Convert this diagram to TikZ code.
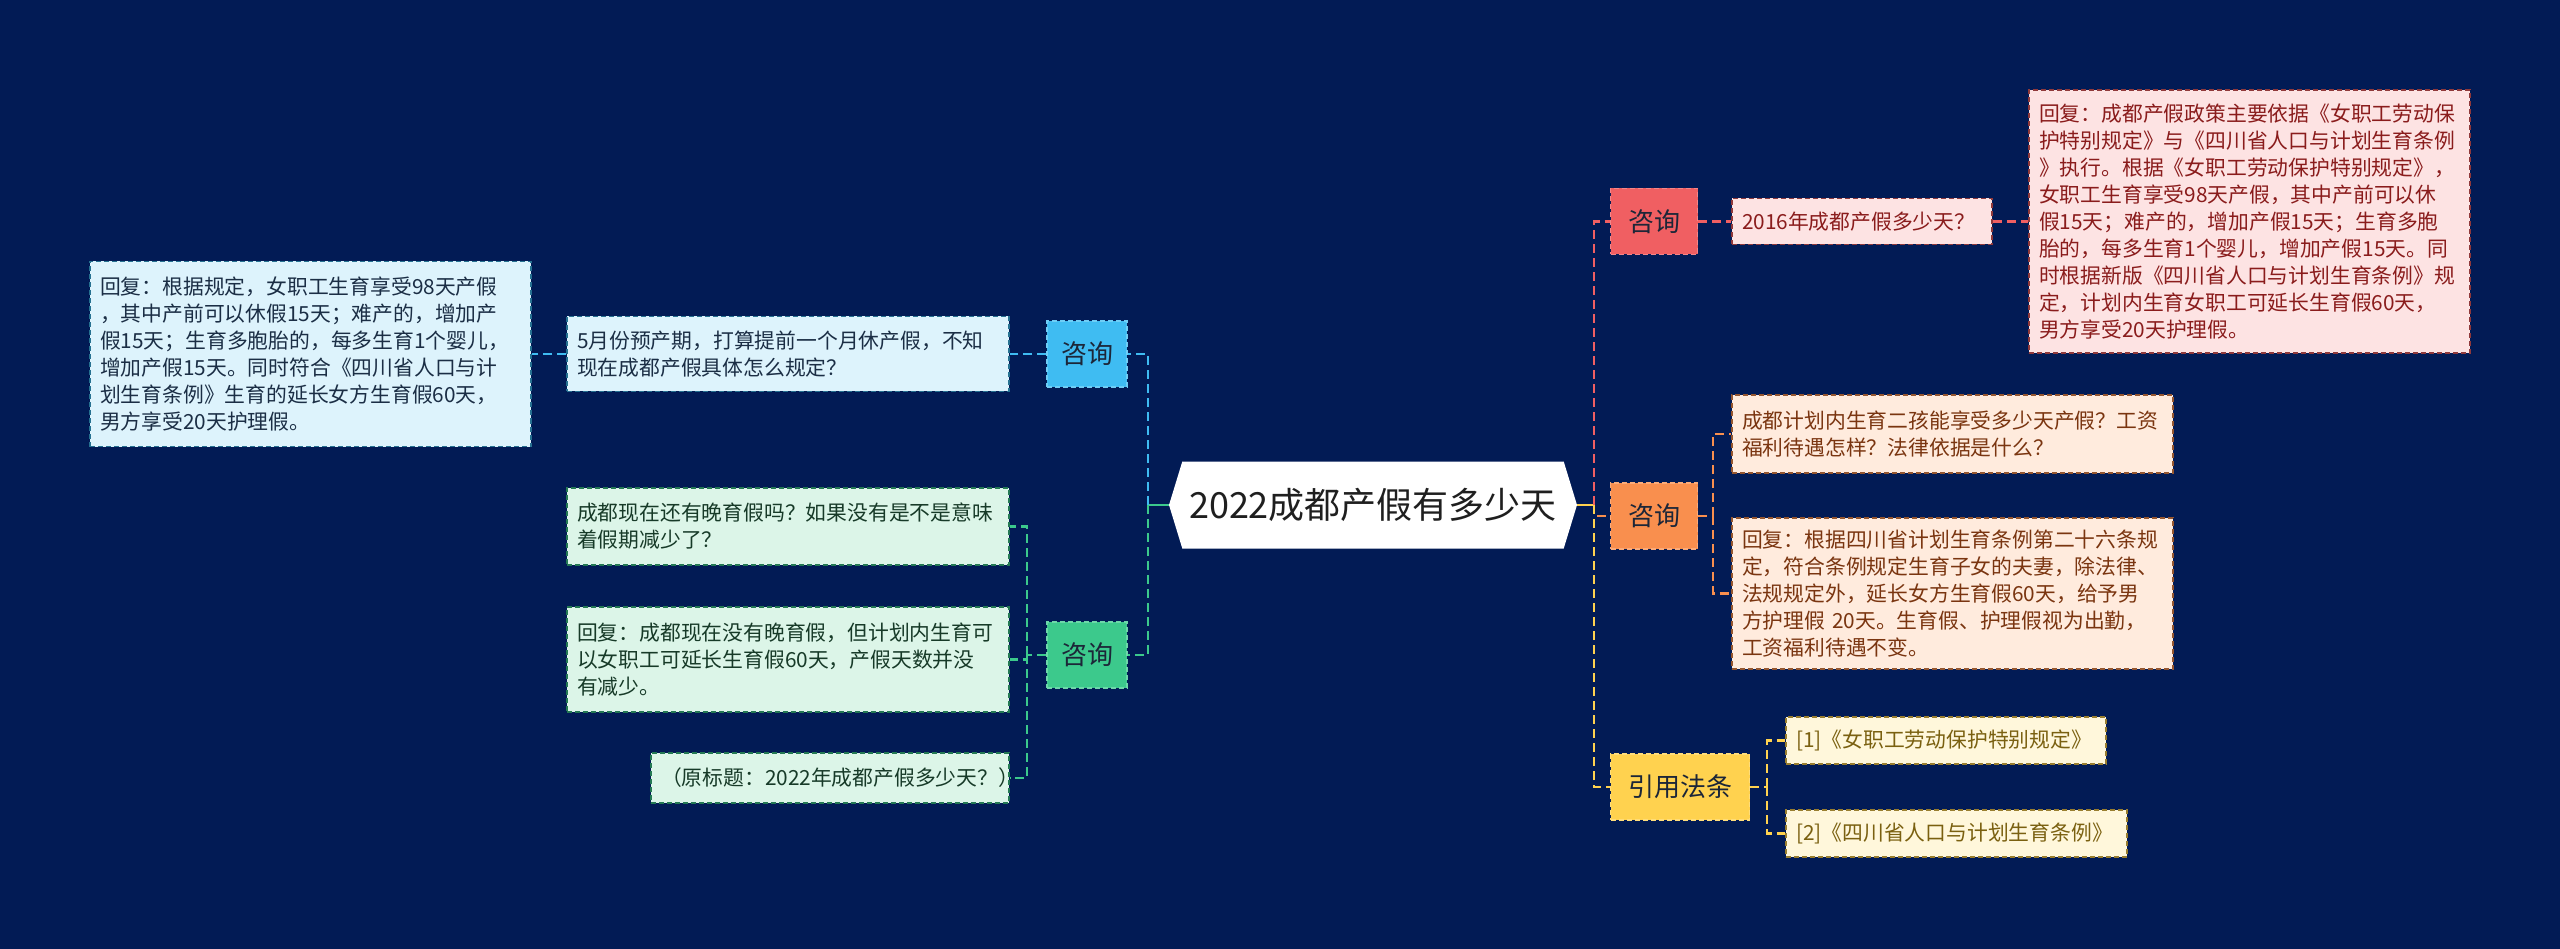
\documentclass[tikz,border=0pt]{standalone}
\usepackage{fontspec}
\setmainfont{Noto Sans CJK SC}
\usetikzlibrary{shapes.symbols}

\definecolor{navy}{HTML}{021B55}
\definecolor{skyline}{HTML}{3FBCF2}
\definecolor{skyfill}{HTML}{DDF3FC}
\definecolor{skytext}{HTML}{1B2E45}
\definecolor{mintline}{HTML}{3CC98C}
\definecolor{mintfill}{HTML}{DCF5E8}
\definecolor{minttext}{HTML}{173A28}
\definecolor{roseline}{HTML}{F05F62}
\definecolor{rosefill}{HTML}{FDE3E3}
\definecolor{rosetext}{HTML}{8A1C1C}
\definecolor{peachline}{HTML}{F98F4E}
\definecolor{peachfill}{HTML}{FFEBDD}
\definecolor{peachtext}{HTML}{7A3510}
\definecolor{goldline}{HTML}{FFD24F}
\definecolor{goldfill}{HTML}{FFF7DB}
\definecolor{goldtext}{HTML}{7A6010}
\definecolor{topicink}{HTML}{1C2638}

\tikzset{
  leaf/.style={draw, line width=1.5pt, dash pattern=on 5pt off 3pt, inner xsep=10pt, inner ysep=5pt,
    align=left, font=\fontsize{20.8}{27}\selectfont},
  topic/.style={draw, line width=1.5pt, dash pattern=on 5pt off 3pt, inner sep=0pt,
    minimum height=66pt, text=topicink, font=\fontsize{26}{30}\selectfont},
  link/.style={line width=2.2pt, dash pattern=on 9pt off 5pt},
}

\begin{document}
\begin{tikzpicture}[x=1pt,y=-1pt]
    \fill[navy] (0,0) rectangle (2560,949);
    \useasboundingbox (0,0) rectangle (2560,949);

    \node[signal, signal to=west and east, signal pointer angle=146, fill=white, inner sep=0pt,
      minimum width=408pt, minimum height=87pt, text=black!88,
      font=\fontsize{36}{40}\selectfont] (root) at (1373,505) {2022成都产假有多少天};

    % left side
    \node[topic, fill=skyline, draw=skyline!75!white, minimum width=80pt] (blueT) at (1087,354) {咨询};
    \node[leaf, fill=skyfill, draw=skyline!60!black, text=skytext, text width=422pt, minimum height=75pt] (blueQ) at (788,354)
      {5月份预产期，打算提前一个月休产假，不知\\现在成都产假具体怎么规定？};
    \node[leaf, fill=skyfill, draw=skyline!60!black, text=skytext, text width=421pt, minimum height=185pt] (blueA) at (310.5,354)
      {回复：根据规定，女职工生育享受98天产假\\，其中产前可以休假15天；难产的，增加产\\假15天；生育多胞胎的，每多生育1个婴儿，\\增加产假15天。同时符合《四川省人口与计\\划生育条例》生育的延长女方生育假60天，\\男方享受20天护理假。};

    \node[topic, fill=mintline, draw=mintline!75!white, minimum width=80pt] (greenT) at (1087,655) {咨询};
    \node[leaf, fill=mintfill, draw=mintline!60!black, text=minttext, text width=422pt, minimum height=77pt] (greenQ) at (788,526.5)
      {成都现在还有晚育假吗？如果没有是不是意味\\着假期减少了？};
    \node[leaf, fill=mintfill, draw=mintline!60!black, text=minttext, text width=422pt, minimum height=105pt] (greenA) at (788,659.5)
      {回复：成都现在没有晚育假，但计划内生育可\\以女职工可延长生育假60天，产假天数并没\\有减少。};
    \node[leaf, fill=mintfill, draw=mintline!60!black, text=minttext, text width=338pt, minimum height=50pt] (greenN) at (830,778)
      {（原标题：2022年成都产假多少天？）};

    % right side
    \node[topic, fill=roseline, draw=roseline!75!white, minimum width=87pt] (redT) at (1654,221.5) {咨询};
    \node[leaf, fill=rosefill, draw=roseline!60!black, text=rosetext, text width=240pt, minimum height=46pt] (redQ) at (1862,221.5)
      {2016年成都产假多少天？};
    \node[leaf, fill=rosefill, draw=roseline!60!black, text=rosetext, text width=421pt, minimum height=263pt] (redA) at (2249.5,221.5)
      {回复：成都产假政策主要依据《女职工劳动保\\护特别规定》与《四川省人口与计划生育条例\\》执行。根据《女职工劳动保护特别规定》，\\女职工生育享受98天产假，其中产前可以休\\假15天；难产的，增加产假15天；生育多胞\\胎的，每多生育1个婴儿，增加产假15天。同\\时根据新版《四川省人口与计划生育条例》规\\定，计划内生育女职工可延长生育假60天，\\男方享受20天护理假。};

    \node[topic, fill=peachline, draw=peachline!75!white, minimum width=87pt] (orangeT) at (1654,516) {咨询};
    \node[leaf, fill=peachfill, draw=peachline!60!black, text=peachtext, text width=421pt, minimum height=78pt] (orangeQ) at (1952.5,434)
      {成都计划内生育二孩能享受多少天产假？工资\\福利待遇怎样？法律依据是什么？};
    \node[leaf, fill=peachfill, draw=peachline!60!black, text=peachtext, text width=421pt, minimum height=151pt] (orangeA) at (1952.5,593.5)
      {回复：根据四川省计划生育条例第二十六条规\\定，符合条例规定生育子女的夫妻，除法律、\\法规规定外，延长女方生育假60天，给予男\\方护理假 20天。生育假、护理假视为出勤，\\工资福利待遇不变。};

    \node[topic, fill=goldline, draw=goldline!75!white, minimum width=139pt] (yellowT) at (1680,787) {引用法条};
    \node[leaf, fill=goldfill, draw=goldline!60!black, text=goldtext, text width=300pt, minimum height=47pt] (ref1) at (1946,740.5)
      {[1]《女职工劳动保护特别规定》};
    \node[leaf, fill=goldfill, draw=goldline!60!black, text=goldtext, text width=321pt, minimum height=47pt] (ref2) at (1956.5,833.5)
      {[2]《四川省人口与计划生育条例》};

    \coordinate (lHub) at (1148,505);
    \coordinate (rHub) at (1594,505);
    \coordinate (gHub) at (1027,655);
    \coordinate (oHub) at (1713,516);
    \coordinate (yHub) at (1767,787);

    \draw[mintline, line width=2.5pt] (root) -- (lHub);
    \draw[link, skyline] (lHub) |- (blueT);
    \draw[link, mintline] (lHub) |- (greenT);
    \draw[link, skyline] (blueT) -- (blueQ);
    \draw[link, skyline] (blueQ) -- (blueA);
    \draw[link, mintline] (greenT) -- (gHub);
    \draw[link, mintline] (gHub) |- (greenQ);
    \draw[link, mintline] (gHub) |- (greenA);
    \draw[link, mintline] (gHub) |- (greenN);

    \draw[goldline, line width=2.5pt] (root) -- (rHub);
    \draw[link, roseline] (rHub) |- (redT);
    \draw[link, peachline] (rHub) |- (orangeT);
    \draw[link, goldline] (rHub) |- (yellowT);
    \draw[link, roseline] (redT) -- (redQ);
    \draw[link, roseline] (redQ) -- (redA);
    \draw[link, peachline] (orangeT) -- (oHub);
    \draw[link, peachline] (oHub) |- (orangeQ);
    \draw[link, peachline] (oHub) |- (orangeA);
    \draw[link, goldline] (yellowT) -- (yHub);
    \draw[link, goldline] (yHub) |- (ref1);
    \draw[link, goldline] (yHub) |- (ref2);
\end{tikzpicture}
\end{document}
